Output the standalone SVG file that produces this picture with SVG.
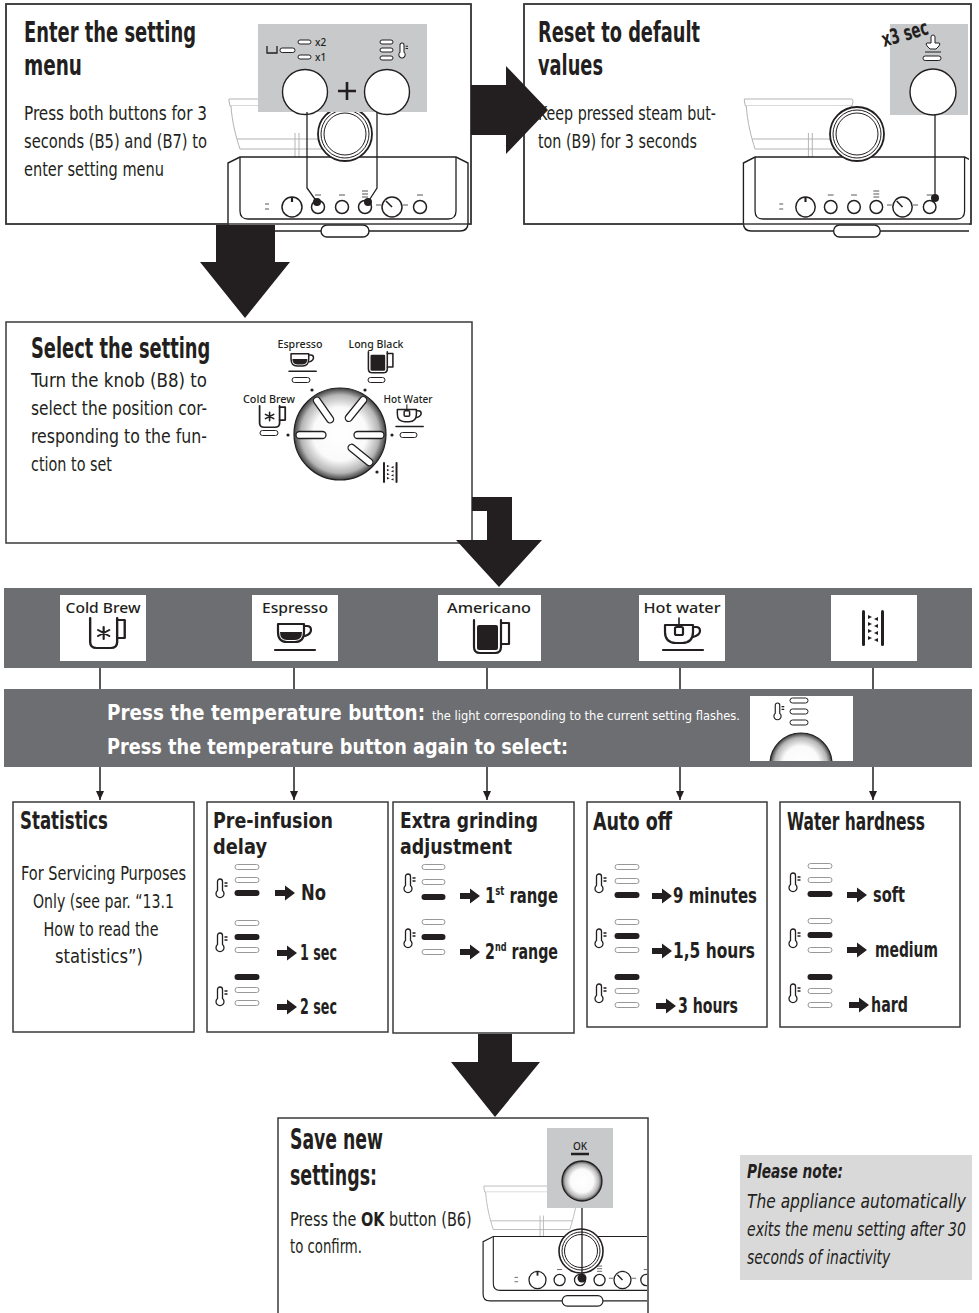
<svg xmlns="http://www.w3.org/2000/svg" width="979" height="1313" viewBox="0 0 979 1313">
<style>
text{font-family:"Liberation Sans Narrow","DejaVu Sans Condensed","Liberation Sans",sans-serif;fill:#231f20}
.h{font-weight:bold;font-size:28px}
.h2{font-weight:bold;font-size:25px}
.h3{font-weight:bold;font-size:22px}
.b{font-size:20px}
.s{font-size:21px;font-weight:bold}
.w{fill:#fff}
.ic{font-family:"Noto Sans","DejaVu Sans",sans-serif;font-size:14px;font-weight:500}
.ik{font-family:"Noto Sans","DejaVu Sans",sans-serif;font-size:10px;font-weight:500}
.nt{font-size:19px;font-style:italic}
.box{fill:#fff;stroke:#3a3a3a;stroke-width:1.5}
.frame{fill:none;stroke:#3a3a3a;stroke-width:1.5}
.ln{fill:none;stroke:#231f20;stroke-width:1.3}
.hop{fill:#fff;stroke:#b3b3b3;stroke-width:1}
.p0{fill:#fff;stroke:#8c8c8c;stroke-width:.9}
.p1{fill:#231f20}
.pk{fill:#fff;stroke:#231f20;stroke-width:1}
.panel{fill:#c8c9cb}
.big{fill:#231f20}
.band{fill:#6d6e71}
.ico{fill:none;stroke:#231f20;stroke-width:2.2;stroke-linejoin:round;stroke-linecap:round}
.btn{fill:#fff;stroke:#231f20;stroke-width:1.5}
.tk{fill:none;stroke:#555;stroke-width:1}
</style>
<defs>
  <radialGradient id="kg" cx="50%" cy="50%" r="50%">
    <stop offset="0" stop-color="#fff"/>
    <stop offset="0.58" stop-color="#fafafa"/>
    <stop offset="0.85" stop-color="#b5b5b5"/>
    <stop offset="1" stop-color="#3e3e3e"/>
  </radialGradient>
  <marker id="ah" viewBox="0 0 8 9" refX="4" refY="9" markerWidth="8" markerHeight="9" markerUnits="userSpaceOnUse" orient="0">
    <path d="M0,0 L8,0 L4,9 Z" fill="#231f20"/>
  </marker>
  <clipPath id="clip2"><rect x="525" y="5" width="444" height="240"/></clipPath>
  <clipPath id="clipS"><rect x="279" y="1119" width="368" height="194"/></clipPath>
  <clipPath id="clipT"><rect x="750" y="696" width="103" height="65"/></clipPath>

  <!-- thermometer with two dashes -->
  <g id="th">
    <path d="M2.5,11.5 V2.5 A2.5,2.5 0 0 1 7.5,2.5 V11.5 A4,4 0 1 1 2.5,11.5 Z" fill="#fff" stroke="#231f20" stroke-width="1.3"/>
    <path d="M9.5,4 H12.5 M9.5,7 H12.5" stroke="#231f20" stroke-width="1.3"/>
  </g>
  <!-- option arrow -->
  <path id="ar" d="M0,-3 H10 V-7.5 L20,0 L10,7.5 V3 H0 Z" fill="#231f20"/>
  <!-- knob position mark -->
  <rect id="mk" x="-15" y="-3.5" width="30" height="7" rx="3.5" fill="#fff" stroke="#231f20" stroke-width="1.3"/>

  <!-- drink icons -->
  <g id="i-cb" class="ico">
    <path d="M2,1 V25 Q2,31 8,31 H21 Q27,31 27,25 V1"/>
    <path d="M27,3 H34 V21 H27"/>
    <path d="M14.5,10 V22 M9.3,13 L19.7,19 M9.3,19 L19.7,13" stroke-width="2"/>
  </g>
  <g id="i-es" class="ico">
    <path d="M3,1 H29 V9 Q29,19 20,19 H12 Q3,19 3,9 Z"/>
    <path d="M5,9 H27 Q27,17 20,17 H12 Q5,17 5,9 Z" fill="#231f20" stroke="none"/>
    <path d="M29,3 H32 Q36,3 36,7 Q36,11 30,13"/>
    <path d="M0,27 H40"/>
  </g>
  <g id="i-am" class="ico">
    <path d="M2,1 V28 Q2,34 8,34 H23 Q29,34 29,28 V1"/>
    <path d="M29,4 H37 V25 H29"/>
    <rect x="5" y="6" width="21" height="25" rx="2" fill="#231f20" stroke="none"/>
  </g>
  <g id="i-hw" class="ico">
    <path d="M2,8 H30 V15 Q30,26 19,26 H13 Q2,26 2,15 Z"/>
    <path d="M30,10 H33 Q37,10 37,14 Q37,18 30,20"/>
    <path d="M16,1 V10" stroke-width="1.6"/>
    <rect x="12" y="10" width="8" height="8" rx="1.5" fill="#fff"/>
    <path d="M0,33 H40"/>
  </g>
  <g id="i-gr">
    <rect x="0" y="0" width="3" height="36" rx="1.5" fill="#231f20"/>
    <rect x="19" y="0" width="3" height="36" rx="1.5" fill="#231f20"/>
    <path fill="#231f20" d="M6,5 L10,7 L6,9 Z M16,7 L12,9 L16,11 Z M6,12 L10,14 L6,16 Z M16,14 L12,16 L16,18 Z M6,19 L10,21 L6,23 Z M16,21 L12,23 L16,25 Z M6,26 L10,28 L6,30 Z M16,28 L12,30 L16,32 Z"/>
  </g>

  <!-- espresso machine front, origin at the centre of the OK button -->
  <g id="mach">
    <path class="hop" d="M-113,-108 H-3 Q-1,-108 -1,-106 L-2,-101 H-112 L-113,-106 Z"/>
    <path class="hop" d="M-111,-101 C-110,-85 -106,-70 -102,-58 H-12 C-8,-70 -4,-85 -3,-101"/>
    <path class="hop" d="M-105,-68 H-9"/>
    <path class="hop" d="M-47,-74 V-50 M-43,-74 V-50"/>
    <path fill="#fff" stroke="#231f20" stroke-width="1.4" d="M-114,-44 V16 Q-114,24 -106,24 H118 Q126,24 126,16 V-44 L114,-50 H-102 Z"/>
    <path class="ln" d="M-102,-50 V4 Q-102,12 -94,12 H106 Q114,12 114,4 V-50"/>
    <rect x="-21" y="18" width="48" height="12" rx="6" fill="#fff" stroke="#231f20" stroke-width="1.4"/>
    <path class="tk" d="M-77,-3 H-73 M-77,2 H-73"/>
    <circle class="btn" cx="-50" cy="0" r="10"/>
    <path d="M-50,-10 V-5" stroke="#231f20" stroke-width="2.2"/>
    <circle class="btn" cx="-24" cy="0" r="6.5"/>
    <circle class="btn" cx="0" cy="0" r="6.5"/>
    <circle class="btn" cx="23" cy="0" r="6.5"/>
    <circle class="btn" cx="50" cy="0" r="10"/>
    <path d="M50,0 L44,-6" stroke="#231f20" stroke-width="1.6"/>
    <circle class="btn" cx="78" cy="0" r="6.5"/>
    <path class="tk" d="M-27,-12 H-21 M-3,-12 H3 M20,-16 H26 M20,-13 H26 M20,-10 H26 M75,-12 H81 M34,-2 H39 M61,-2 H66"/>
  </g>
</defs>

<rect width="979" height="1313" fill="#fff"/>

<!-- step: enter the setting menu -->
<g id="enter-menu">
  <rect class="box" x="6" y="4" width="465" height="220"/>
  <text class="h" x="24" y="42" textLength="172" lengthAdjust="spacingAndGlyphs">Enter the setting</text>
  <text class="h" x="24" y="75" textLength="58" lengthAdjust="spacingAndGlyphs">menu</text>
  <text class="b" x="24" y="120" textLength="183" lengthAdjust="spacingAndGlyphs">Press both buttons for 3</text>
  <text class="b" x="24" y="148" textLength="183" lengthAdjust="spacingAndGlyphs">seconds (B5) and (B7) to</text>
  <text class="b" x="24" y="176" textLength="140" lengthAdjust="spacingAndGlyphs">enter setting menu</text>
  <use href="#mach" transform="translate(342,207)"/>
  <circle cx="345" cy="134" r="27" fill="#fff" stroke="#231f20" stroke-width="1.8"/>
  <circle cx="345" cy="134" r="24" fill="none" stroke="#231f20" stroke-width="1"/>
  <circle cx="345" cy="134" r="21" fill="none" stroke="#231f20" stroke-width="1"/>
  <rect class="panel" x="258" y="24" width="169" height="88"/>
  <circle cx="305" cy="92" r="22.5" fill="#fff" stroke="#231f20" stroke-width="1.4"/>
  <circle cx="387" cy="92" r="22.5" fill="#fff" stroke="#231f20" stroke-width="1.4"/>
  <path d="M338,91 H356 M347,82 V100" stroke="#231f20" stroke-width="2.6"/>
  <path class="ln" d="M267,46 V53 H277 V46" stroke-width="1.1"/>
  <rect x="280" y="48" width="15" height="4.5" rx="2.2" fill="#fff" stroke="#231f20" stroke-width="1"/>
  <rect class="pk" x="298" y="40" width="13" height="4" rx="2"/>
  <rect class="pk" x="298" y="55" width="13" height="4" rx="2"/>
  <text class="ik" x="315" y="46" font-size="12">x2</text>
  <text class="ik" x="315" y="61" font-size="12">x1</text>
  <rect class="pk" x="380" y="40" width="13" height="4" rx="2"/>
  <rect class="pk" x="380" y="48" width="13" height="4" rx="2"/>
  <rect class="pk" x="380" y="56" width="13" height="4" rx="2"/>
  <use href="#th" transform="translate(398,43) scale(0.8)"/>
  <path class="ln" d="M307,112 V188 L317,202 M377,112 V188 L368,202"/>
  <circle cx="317" cy="202" r="4" fill="#231f20"/>
  <circle cx="368" cy="202" r="4" fill="#231f20"/>
  <rect class="frame" x="6" y="4" width="465" height="220"/>
</g>

<!-- step: reset to default values -->
<g id="reset-defaults">
  <rect class="box" x="524" y="4" width="447" height="220"/>
  <text class="h" x="538" y="42" textLength="162" lengthAdjust="spacingAndGlyphs">Reset to default</text>
  <text class="h" x="538" y="75" textLength="65" lengthAdjust="spacingAndGlyphs">values</text>
  <text class="b" x="538" y="120" textLength="178" lengthAdjust="spacingAndGlyphs">Keep pressed steam but-</text>
  <text class="b" x="538" y="148" textLength="159" lengthAdjust="spacingAndGlyphs">ton (B9) for 3 seconds</text>
  <g clip-path="url(#clip2)">
    <use href="#mach" transform="translate(854,207) scale(0.97,1)"/>
  </g>
  <circle cx="857" cy="134" r="27" fill="#fff" stroke="#231f20" stroke-width="1.8"/>
  <circle cx="857" cy="134" r="24" fill="none" stroke="#231f20" stroke-width="1"/>
  <circle cx="857" cy="134" r="21" fill="none" stroke="#231f20" stroke-width="1"/>
  <rect class="panel" x="890" y="24" width="78" height="91"/>
  <text font-weight="bold" font-size="21px" x="0" y="0" transform="translate(884,47) rotate(-16) scale(0.72,1)" textLength="66" lengthAdjust="spacingAndGlyphs">x3 sec</text>
  <path d="M931,37 Q931,35 933,35 Q935,35 935,37 V43 H939 Q941,43 939,46 L936,49 H930 L927,46 Q925,43 927,43 H931 Z" fill="#fff" stroke="#231f20" stroke-width="1"/>
  <path d="M925,52 H941" stroke="#231f20" stroke-width="1"/>
  <rect class="pk" x="923" y="56" width="18" height="4.5" rx="2.2"/>
  <circle cx="933" cy="92" r="23" fill="#fff" stroke="#231f20" stroke-width="1.4"/>
  <path class="ln" d="M935,115 V198"/>
  <circle cx="935" cy="198" r="4" fill="#231f20"/>
  <rect class="frame" x="524" y="4" width="447" height="220"/>
</g>

<!-- step: select the setting with the knob -->
<g id="select-setting">
  <rect class="box" x="6" y="322" width="466" height="221"/>
  <text class="h" transform="translate(31,358) scale(0.72,1)" x="0" y="0" textLength="249" lengthAdjust="spacingAndGlyphs">Select the setting</text>
  <text class="b" x="31" y="387" textLength="176" lengthAdjust="spacingAndGlyphs">Turn the knob (B8) to</text>
  <text class="b" x="31" y="415" textLength="176" lengthAdjust="spacingAndGlyphs">select the position cor-</text>
  <text class="b" x="31" y="443" textLength="176" lengthAdjust="spacingAndGlyphs">responding to the fun-</text>
  <text class="b" x="31" y="471" textLength="81" lengthAdjust="spacingAndGlyphs">ction to set</text>
  <circle cx="340" cy="434" r="46" fill="url(#kg)" stroke="#231f20" stroke-width="1.2"/>
  <use href="#mk" transform="translate(311,435)"/>
  <use href="#mk" transform="translate(369,435)"/>
  <use href="#mk" transform="translate(323.5,410) rotate(55)"/>
  <use href="#mk" transform="translate(356,409) rotate(-51)"/>
  <use href="#mk" transform="translate(360.5,455) rotate(39)"/>
  <g fill="#231f20">
    <circle cx="312" cy="390" r="1.6"/><circle cx="365" cy="390" r="1.6"/>
    <circle cx="288" cy="435" r="1.6"/><circle cx="392" cy="435" r="1.6"/>
    <circle cx="377" cy="472" r="1.6"/>
  </g>
  <text class="ik" x="300" y="348" text-anchor="middle" textLength="45" lengthAdjust="spacingAndGlyphs">Espresso</text>
  <text class="ik" x="376" y="348" text-anchor="middle" textLength="55" lengthAdjust="spacingAndGlyphs">Long Black</text>
  <text class="ik" x="269" y="403" text-anchor="middle" textLength="52" lengthAdjust="spacingAndGlyphs">Cold Brew</text>
  <text class="ik" x="408" y="403" text-anchor="middle" textLength="49" lengthAdjust="spacingAndGlyphs">Hot Water</text>
  <use href="#i-es" transform="translate(289,353) scale(0.68)"/>
  <use href="#i-am" transform="translate(367,351) scale(0.7,0.64)"/>
  <use href="#i-cb" transform="translate(258,405) scale(0.8,0.72)"/>
  <use href="#i-hw" transform="translate(396,404) scale(0.68)"/>
  <use href="#i-gr" transform="translate(383,462) scale(0.66,0.58)"/>
  <rect class="pk" x="292" y="377.5" width="18" height="5" rx="2.5"/>
  <rect class="pk" x="368" y="377.5" width="17" height="5" rx="2.5"/>
  <rect class="pk" x="260" y="430.5" width="18" height="5" rx="2.5"/>
  <rect class="pk" x="400" y="432.5" width="17" height="5" rx="2.5"/>
</g>

<!-- function selector band -->
<g id="functions">
  <rect class="band" x="4" y="588" width="968" height="80"/>
  <rect x="60" y="595" width="86" height="66" fill="#fff"/>
  <rect x="252" y="595" width="86" height="66" fill="#fff"/>
  <rect x="438" y="595" width="103" height="66" fill="#fff"/>
  <rect x="639" y="595" width="86" height="66" fill="#fff"/>
  <rect x="831" y="595" width="86" height="66" fill="#fff"/>
  <text class="ic" x="103" y="613" text-anchor="middle" textLength="75" lengthAdjust="spacingAndGlyphs">Cold Brew</text>
  <text class="ic" x="295" y="613" text-anchor="middle" textLength="66" lengthAdjust="spacingAndGlyphs">Espresso</text>
  <text class="ic" x="489" y="613" text-anchor="middle" textLength="84" lengthAdjust="spacingAndGlyphs">Americano</text>
  <text class="ic" x="682" y="613" text-anchor="middle" textLength="77" lengthAdjust="spacingAndGlyphs">Hot water</text>
  <use href="#i-cb" transform="translate(88,617) scale(1.08,1)"/>
  <use href="#i-es" transform="translate(275,623)"/>
  <use href="#i-am" transform="translate(472,619)"/>
  <use href="#i-hw" transform="translate(663,617)"/>
  <use href="#i-gr" transform="translate(862,610)"/>
</g>

<!-- temperature button band -->
<g id="temperature-button">
  <rect class="band" x="4" y="689" width="968" height="78"/>
  <text class="w" font-weight="bold" font-size="21px" x="107" y="720" textLength="318" lengthAdjust="spacingAndGlyphs">Press the temperature button:</text>
  <text class="w" font-size="13px" x="432" y="720" textLength="308" lengthAdjust="spacingAndGlyphs">the light corresponding to the current setting flashes.</text>
  <text class="w" font-weight="bold" font-size="21px" x="107" y="754" textLength="461" lengthAdjust="spacingAndGlyphs">Press the temperature button again to select:</text>
  <rect x="750" y="696" width="103" height="65" fill="#fff"/>
  <use href="#th" transform="translate(773,703) scale(0.9)"/>
  <rect class="pk" x="790" y="698" width="18" height="5" rx="2.5"/>
  <rect class="pk" x="790" y="709" width="18" height="5" rx="2.5"/>
  <rect class="pk" x="790" y="720" width="18" height="5" rx="2.5"/>
  <circle cx="801" cy="764" r="31" fill="url(#kg)" stroke="#231f20" stroke-width="1.2" clip-path="url(#clipT)"/>
</g>

<!-- settings -->
<g id="statistics">
  <rect class="box" x="13" y="802" width="181" height="230"/>
  <text class="h2" x="20" y="829" textLength="88" lengthAdjust="spacingAndGlyphs">Statistics</text>
  <text class="b" x="103.5" y="880" text-anchor="middle" textLength="165" lengthAdjust="spacingAndGlyphs">For Servicing Purposes</text>
  <text class="b" x="103.5" y="908" text-anchor="middle" textLength="141" lengthAdjust="spacingAndGlyphs">Only (see par. “13.1</text>
  <text class="b" x="101" y="936" text-anchor="middle" textLength="115" lengthAdjust="spacingAndGlyphs">How to read the</text>
  <text class="b" x="99" y="963" text-anchor="middle" textLength="88" lengthAdjust="spacingAndGlyphs">statistics”)</text>
</g>

<g id="pre-infusion">
  <rect class="box" x="207" y="802" width="181" height="230"/>
  <text class="h3" x="213" y="828" textLength="120" lengthAdjust="spacingAndGlyphs">Pre-infusion</text>
  <text class="h3" x="213" y="854" textLength="54" lengthAdjust="spacingAndGlyphs">delay</text>
  <use href="#th" x="215" y="879"/>
  <rect class="p0" x="235" y="864.5" width="24" height="5" rx="2.5"/>
  <rect class="p0" x="235" y="877.5" width="24" height="5" rx="2.5"/>
  <rect class="p1" x="234.5" y="890" width="25" height="6" rx="3"/>
  <use href="#ar" x="275" y="893"/>
  <text class="s" x="301" y="900" textLength="25" lengthAdjust="spacingAndGlyphs">No</text>
  <use href="#th" x="215" y="933"/>
  <rect class="p0" x="235" y="920.5" width="24" height="5" rx="2.5"/>
  <rect class="p1" x="234.5" y="934" width="25" height="6" rx="3"/>
  <rect class="p0" x="235" y="947.5" width="24" height="5" rx="2.5"/>
  <use href="#ar" x="277" y="953"/>
  <text class="s" x="300" y="960" textLength="37" lengthAdjust="spacingAndGlyphs">1 sec</text>
  <use href="#th" x="215" y="987"/>
  <rect class="p1" x="234.5" y="974" width="25" height="6" rx="3"/>
  <rect class="p0" x="235" y="987.5" width="24" height="5" rx="2.5"/>
  <rect class="p0" x="235" y="1000.5" width="24" height="5" rx="2.5"/>
  <use href="#ar" x="277" y="1007"/>
  <text class="s" x="300" y="1014" textLength="37" lengthAdjust="spacingAndGlyphs">2 sec</text>
</g>

<g id="extra-grinding">
  <rect class="box" x="393" y="802" width="181" height="231"/>
  <text class="h3" x="400" y="828" textLength="138" lengthAdjust="spacingAndGlyphs">Extra grinding</text>
  <text class="h3" x="400" y="854" textLength="112" lengthAdjust="spacingAndGlyphs">adjustment</text>
  <use href="#th" x="403" y="874"/>
  <rect class="p0" x="422" y="864.5" width="23" height="5" rx="2.5"/>
  <rect class="p0" x="422" y="879.5" width="23" height="5" rx="2.5"/>
  <rect class="p1" x="421.5" y="894" width="24" height="6" rx="3"/>
  <use href="#ar" x="460" y="896"/>
  <text class="s" transform="translate(485,903) scale(0.82,1)" x="0" y="0" textLength="89" lengthAdjust="spacingAndGlyphs">1<tspan font-size="12px" dy="-8">st</tspan><tspan dy="8"> range</tspan></text>
  <use href="#th" x="403" y="929"/>
  <rect class="p0" x="422" y="919.5" width="23" height="5" rx="2.5"/>
  <rect class="p1" x="421.5" y="934" width="24" height="6" rx="3"/>
  <rect class="p0" x="422" y="949.5" width="23" height="5" rx="2.5"/>
  <use href="#ar" x="460" y="952"/>
  <text class="s" transform="translate(485,959) scale(0.82,1)" x="0" y="0" textLength="89" lengthAdjust="spacingAndGlyphs">2<tspan font-size="12px" dy="-8">nd</tspan><tspan dy="8"> range</tspan></text>
</g>

<g id="auto-off">
  <rect class="box" x="587" y="802" width="180" height="225"/>
  <text class="h2" x="593" y="830" textLength="79" lengthAdjust="spacingAndGlyphs">Auto off</text>
  <use href="#th" x="594" y="874"/>
  <rect class="p0" x="615" y="864.5" width="24" height="5" rx="2.5"/>
  <rect class="p0" x="615" y="878.5" width="24" height="5" rx="2.5"/>
  <rect class="p1" x="614.5" y="892" width="25" height="6" rx="3"/>
  <use href="#ar" x="652" y="896"/>
  <text class="s" x="673" y="903" textLength="84" lengthAdjust="spacingAndGlyphs">9 minutes</text>
  <use href="#th" x="594" y="929"/>
  <rect class="p0" x="615" y="919.5" width="24" height="5" rx="2.5"/>
  <rect class="p1" x="614.5" y="933" width="25" height="6" rx="3"/>
  <rect class="p0" x="615" y="947.5" width="24" height="5" rx="2.5"/>
  <use href="#ar" x="652" y="951"/>
  <text class="s" x="673" y="958" textLength="82" lengthAdjust="spacingAndGlyphs">1,5 hours</text>
  <use href="#th" x="594" y="984"/>
  <rect class="p1" x="614.5" y="974" width="25" height="6" rx="3"/>
  <rect class="p0" x="615" y="988.5" width="24" height="5" rx="2.5"/>
  <rect class="p0" x="615" y="1002.5" width="24" height="5" rx="2.5"/>
  <use href="#ar" x="656" y="1006"/>
  <text class="s" x="678" y="1013" textLength="60" lengthAdjust="spacingAndGlyphs">3 hours</text>
</g>

<g id="water-hardness">
  <rect class="box" x="780" y="802" width="180" height="225"/>
  <text class="h2" transform="translate(787,830) scale(0.66,1)" x="0" y="0" textLength="209" lengthAdjust="spacingAndGlyphs">Water hardness</text>
  <use href="#th" x="788" y="873"/>
  <rect class="p0" x="808" y="863.5" width="24" height="5" rx="2.5"/>
  <rect class="p0" x="808" y="877.5" width="24" height="5" rx="2.5"/>
  <rect class="p1" x="807.5" y="891" width="25" height="6" rx="3"/>
  <use href="#ar" x="847" y="895"/>
  <text class="s" x="873" y="902" textLength="32" lengthAdjust="spacingAndGlyphs">soft</text>
  <use href="#th" x="788" y="929"/>
  <rect class="p0" x="808" y="918.5" width="24" height="5" rx="2.5"/>
  <rect class="p1" x="807.5" y="932" width="25" height="6" rx="3"/>
  <rect class="p0" x="808" y="947.5" width="24" height="5" rx="2.5"/>
  <use href="#ar" x="847" y="950"/>
  <text class="s" x="875" y="957" textLength="63" lengthAdjust="spacingAndGlyphs">medium</text>
  <use href="#th" x="788" y="984"/>
  <rect class="p1" x="807.5" y="974" width="25" height="6" rx="3"/>
  <rect class="p0" x="808" y="988.5" width="24" height="5" rx="2.5"/>
  <rect class="p0" x="808" y="1002.5" width="24" height="5" rx="2.5"/>
  <use href="#ar" x="849" y="1005"/>
  <text class="s" x="871" y="1012" textLength="37" lengthAdjust="spacingAndGlyphs">hard</text>
</g>

<!-- step: save new settings -->
<g id="save-settings">
  <path class="frame" d="M278,1313 V1118 H648 V1313"/>
  <text class="h" x="290" y="1149" textLength="93" lengthAdjust="spacingAndGlyphs">Save new</text>
  <text class="h" x="290" y="1185" textLength="87" lengthAdjust="spacingAndGlyphs">settings:</text>
  <text class="b" transform="translate(290,1226) scale(0.76,1)" x="0" y="0" textLength="239" lengthAdjust="spacingAndGlyphs">Press the <tspan font-weight="bold">OK</tspan> button (B6)</text>
  <text class="b" x="290" y="1253" textLength="72" lengthAdjust="spacingAndGlyphs">to confirm.</text>
  <g clip-path="url(#clipS)">
    <use href="#mach" transform="translate(580,1280) scale(0.85,0.87)"/>
  </g>
  <circle cx="581" cy="1251" r="22" fill="#fff" stroke="#231f20" stroke-width="1.6"/>
  <circle cx="581" cy="1251" r="19" fill="none" stroke="#231f20" stroke-width="1"/>
  <circle cx="581" cy="1251" r="16.5" fill="none" stroke="#231f20" stroke-width="1"/>
  <rect class="panel" x="547" y="1128" width="66" height="80"/>
  <text class="ik" x="580" y="1150" text-anchor="middle" font-size="9px">OK</text>
  <path d="M571,1154 H589" stroke="#231f20" stroke-width="2.5"/>
  <circle cx="582" cy="1181" r="20" fill="url(#kg)" stroke="#231f20" stroke-width="1.3"/>
  <path class="ln" d="M582,1208 V1277"/>
  <circle cx="582" cy="1278" r="4.5" fill="#231f20"/>
</g>

<!-- note -->
<g id="please-note">
  <rect x="740" y="1155" width="232" height="125" fill="#d9d9da"/>
  <text class="nt" font-weight="bold" transform="translate(747,1178) scale(0.8,1)" x="0" y="0" textLength="120" lengthAdjust="spacingAndGlyphs">Please note:</text>
  <text class="nt" transform="translate(747,1208) scale(0.72,1)" x="0" y="0" textLength="304" lengthAdjust="spacingAndGlyphs">The  appliance  automatically</text>
  <text class="nt" transform="translate(747,1236) scale(0.72,1)" x="0" y="0" textLength="304" lengthAdjust="spacingAndGlyphs">exits the menu setting after 30</text>
  <text class="nt" transform="translate(747,1264) scale(0.72,1)" x="0" y="0" textLength="199" lengthAdjust="spacingAndGlyphs">seconds of inactivity</text>
</g>

<!-- connectors -->
<g id="connectors">
  <path class="big" d="M471,85 H506 V66 L548,110 L506,154 V135 H471 Z"/>
  <path class="big" d="M216,225 H275 V262 H290 L245,318 L200,262 H216 Z"/>
  <path class="big" d="M472,497 H512 V540 H542 L499,587 L456,540 H487 V511 H472 Z"/>
  <path class="big" d="M478,1034 H512 V1062 H540 L495,1117 L451,1062 H478 Z"/>
  <g stroke="#231f20" stroke-width="1.5">
    <path d="M100,668 V689 M294,668 V689 M487,668 V689 M680,668 V689 M873,668 V689"/>
    <path d="M100,767 V800" marker-end="url(#ah)"/>
    <path d="M294,767 V800" marker-end="url(#ah)"/>
    <path d="M487,767 V800" marker-end="url(#ah)"/>
    <path d="M680,767 V800" marker-end="url(#ah)"/>
    <path d="M873,767 V800" marker-end="url(#ah)"/>
  </g>
</g>
</svg>
